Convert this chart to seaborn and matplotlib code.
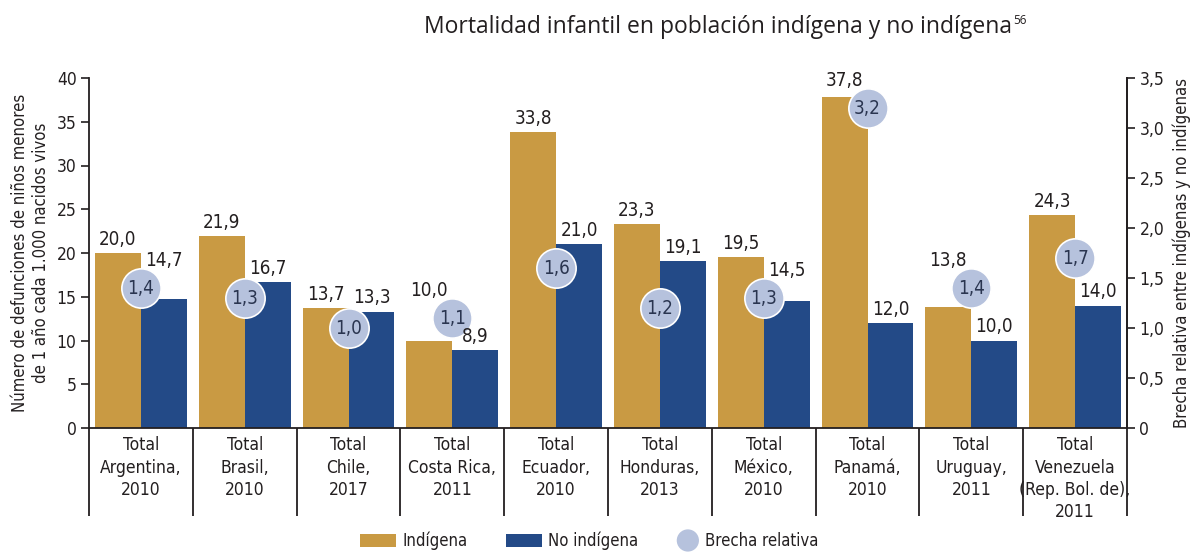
import numpy as np
import pandas as pd
import matplotlib
matplotlib.use("Agg")
import matplotlib.pyplot as plt
import seaborn as sns
from matplotlib.patches import Patch, Circle
from matplotlib.legend_handler import HandlerBase
import matplotlib.transforms as mtransforms

# ---------------- data ----------------
categories = ["Total\nArgentina,\n2010", "Total\nBrasil,\n2010", "Total\nChile,\n2017",
              "Total\nCosta Rica,\n2011", "Total\nEcuador,\n2010", "Total\nHonduras,\n2013",
              "Total\nMéxico,\n2010", "Total\nPanamá,\n2010", "Total\nUruguay,\n2011",
              "Total\nVenezuela\n(Rep. Bol. de),\n2011"]
indigena = [20.0, 21.9, 13.7, 10.0, 33.8, 23.3, 19.5, 37.8, 13.8, 24.3]
no_indigena = [14.7, 16.7, 13.3, 8.9, 21.0, 19.1, 14.5, 12.0, 10.0, 14.0]
brecha = [1.4, 1.3, 1.0, 1.1, 1.6, 1.2, 1.3, 3.2, 1.4, 1.7]
series_names = ["Indígena", "No indígena"]
bubble_name = "Brecha relativa"
left_ticks = [0, 5, 10, 15, 20, 25, 30, 35, 40]
right_ticks = [0, 0.5, 1.0, 1.5, 2.0, 2.5, 3.0, 3.5]
right_tick_labels = ["0", "0,5", "1,0", "1,5", "2,0", "2,5", "3,0", "3,5"]
title = "Mortalidad infantil en población indígena y no indígena"
title_note = "56"
ylabel_left = "Número de defunciones de niños menores\nde 1 año cada 1.000 nacidos vivos"
ylabel_right = "Brecha relativa entre indígenas y no indígenas"

# ---------------- style ----------------
GOLD = "#C99A43"
NAVY = "#234A87"
BUBBLE = "#B6C2DD"
TXT = "#231F20"

sns.set_theme(style="white")
plt.rcParams["font.family"] = ["DejaVu Sans"]
plt.rcParams["font.stretch"] = "condensed"
plt.rcParams["text.color"] = TXT
plt.rcParams["axes.labelcolor"] = TXT
plt.rcParams["xtick.color"] = TXT
plt.rcParams["ytick.color"] = TXT

def fmt(v):
    return f"{v:.1f}".replace(".", ",")

df = pd.DataFrame({
    "cat": categories * 2,
    "serie": [series_names[0]] * len(categories) + [series_names[1]] * len(categories),
    "valor": indigena + no_indigena,
})

W, H = 1192, 553
fig = plt.figure(figsize=(W / 100, H / 100), dpi=100)
ax = fig.add_axes([89 / W, 1 - 428 / H, (1127 - 89) / W, 350 / H])

sns.barplot(data=df, x="cat", y="valor", hue="serie", order=categories,
            hue_order=series_names, palette=[GOLD, NAVY], width=0.885,
            linewidth=0, saturation=1, ax=ax, legend=False)

ax.set_xlim(-0.5, len(categories) - 0.5)
ax.set_ylim(0, 40)
ax.set_yticks(left_ticks)
ax.set_yticklabels([str(t) for t in left_ticks], fontsize=12.5)
ax.set_xticks(range(len(categories)))
ax.set_xticklabels(categories, fontsize=12.5, linespacing=1.3, va="top")
ax.tick_params(axis="x", length=0, pad=6)
ax.tick_params(axis="y", length=6, width=1.2, direction="out", pad=3, color=TXT, left=True)
ax.set_xlabel("")
ax.set_ylabel(ylabel_left, fontsize=12, linespacing=1.15, labelpad=5)
ax.spines["top"].set_visible(False)
for s in ["left", "bottom", "right"]:
    ax.spines[s].set_color(TXT)
    ax.spines[s].set_linewidth(1.3)

# divider lines below axis
trans = mtransforms.blended_transform_factory(ax.transData, ax.transAxes)
for i in range(len(categories) + 1):
    ax.plot([i - 0.5, i - 0.5], [0, -0.25], transform=trans, color=TXT,
            lw=1.3, clip_on=False, solid_capstyle="butt")

# secondary axis with bubbles
ax2 = ax.twinx()
ax2.set_ylim(0, 3.5)
xs = np.arange(len(categories))
sns.scatterplot(x=xs, y=brecha, ax=ax2, s=800, color=BUBBLE, edgecolor="white",
                linewidth=1.2, zorder=5, legend=False)
ax2.set_xlim(-0.5, len(categories) - 0.5)
ax2.set_yticks(right_ticks)
ax2.set_yticklabels(right_tick_labels, fontsize=12.5)
ax2.tick_params(axis="y", length=6, width=1.2, direction="out", pad=3, color=TXT, right=True)
ax2.set_ylabel(ylabel_right, fontsize=12, labelpad=6)
for s in ["top", "left", "bottom"]:
    ax2.spines[s].set_visible(False)
ax2.spines["right"].set_color(TXT)
ax2.spines["right"].set_linewidth(1.3)

ratio = 40 / 3.5
bar_off = 0.885 / 4
for i in range(len(categories)):
    b_left = brecha[i] * ratio
    vals = [indigena[i], no_indigena[i]]
    xpos = [i - bar_off, i + bar_off]
    dists = [abs(v - b_left) for v in vals]
    near = int(np.argmin(dists))
    raise_idx = None
    if dists[near] < 3 and b_left > vals[near] - 1.5:
        raise_idx = near
    for j in range(2):
        if j == raise_idx:
            ax2.annotate(fmt(vals[j]), (xpos[j], brecha[i]), xytext=(0, 20),
                         textcoords="offset points", ha="center", va="center",
                         fontsize=13.5, color=TXT, zorder=6)
        else:
            ax2.annotate(fmt(vals[j]), (xpos[j], vals[j] / ratio), xytext=(0, 3),
                         textcoords="offset points", ha="center", va="bottom",
                         fontsize=13.5, color=TXT, zorder=6)
    ax2.annotate(fmt(brecha[i]), (i, brecha[i]), ha="center", va="center",
                 fontsize=13.5, color="#2A3550", zorder=7)

# title
fig.text(1012 / W, 1 - 27 / H, title, ha="right", va="center", fontsize=16.5,
         family=["Open Sans", "DejaVu Sans"], stretch="normal", color=TXT)
fig.text(1013 / W, 1 - 20 / H, title_note, ha="left", va="center", fontsize=8.5,
         family=["Open Sans", "DejaVu Sans"], stretch="normal", color=TXT)

# legend
class HandlerSmallCircle(HandlerBase):
    def legend_artist(self, legend, orig_handle, fontsize, handlebox):
        r = 8.0
        handlebox.width = 2 * r
        c = Circle((r - handlebox.xdescent, handlebox.height / 2 - handlebox.ydescent), r,
                   facecolor=orig_handle.get_facecolor(), edgecolor="none",
                   transform=handlebox.get_transform())
        handlebox.add_artist(c)
        return c

handles = [Patch(facecolor=GOLD, edgecolor="none", label=series_names[0]),
           Patch(facecolor=NAVY, edgecolor="none", label=series_names[1]),
           Circle((0, 0), 1, facecolor=BUBBLE, edgecolor="none", label=bubble_name)]
fig.legend(handles=handles, loc="center", bbox_to_anchor=(589 / W, 1 - 541 / H), ncol=3,
           frameon=False, fontsize=12, handlelength=2.2, handleheight=0.85,
           columnspacing=2.3, handletextpad=0.35,
           handler_map={Circle: HandlerSmallCircle()})

fig.savefig("out.png", dpi=100)
